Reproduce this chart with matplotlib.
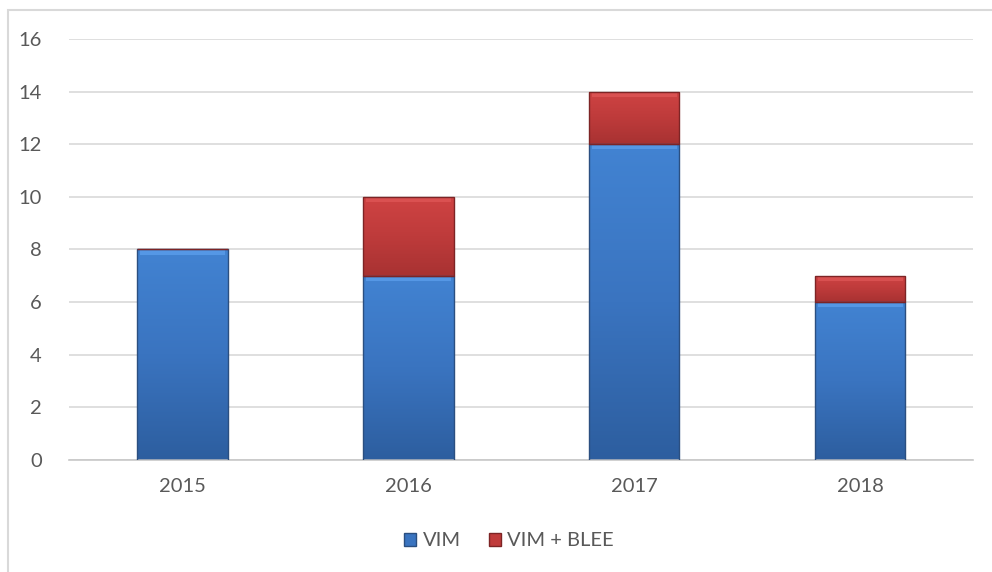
import numpy as np
import matplotlib.pyplot as plt
from matplotlib.patches import Patch, Rectangle
from matplotlib.colors import LinearSegmentedColormap

years = ["2015", "2016", "2017", "2018"]
vim = [8, 7, 12, 6]
vim_blee = [0, 3, 2, 1]

plt.rcParams["font.family"] = ["Lato", "DejaVu Sans"]

fig = plt.figure(figsize=(9.92, 5.72), dpi=100)
ax = fig.add_axes([0.070, 0.196, 0.911, 0.736])

# outer chart frame
fig.patches.append(Rectangle((8 / 992, -0.01), 1.0, 1 - 10 / 572 + 0.01,
                             transform=fig.transFigure, fill=False,
                             edgecolor="#d9d9d9", linewidth=1.5, zorder=0))

blue_cmap = LinearSegmentedColormap.from_list("b", ["#2d5e9f", "#3a74c0", "#4283d2"])
red_cmap = LinearSegmentedColormap.from_list("r", ["#a83232", "#be3b3b", "#cf4343"])

x = np.arange(len(years))
width = 0.40


def shaded_bars(bottoms, heights, cmap, top_col, edge):
    bars = ax.bar(x, heights, width, bottom=bottoms, color="none",
                  edgecolor=edge, linewidth=1.0, zorder=3)
    grad = np.linspace(0, 1, 256).reshape(-1, 1)
    for b in bars:
        h = b.get_height()
        if h <= 0:
            continue
        x0, y0, w = b.get_x(), b.get_y(), b.get_width()
        im = ax.imshow(grad, cmap=cmap, aspect="auto", origin="lower",
                       extent=(x0, x0 + w, y0, y0 + h), zorder=2)
        im.set_clip_path(b)
        # bevel highlight at top
        ax.add_patch(Rectangle((x0 + 0.012, y0 + h - 0.2), w - 0.024, 0.19,
                               color=top_col, alpha=0.7, lw=0, zorder=2.5))
    return bars


shaded_bars(np.zeros(4), vim, blue_cmap, "#5ea0ee", "#2b4f80")
shaded_bars(np.array(vim), vim_blee, red_cmap, "#e05858", "#7d2425")

ax.set_xlim(-0.5, 3.5)
ax.set_ylim(0, 16)
ax.set_yticks(range(0, 17, 2))
ax.set_xticks(x)
ax.set_xticklabels(years)
ax.yaxis.grid(True, color="#d9d9d9", linewidth=1.2, zorder=0)
ax.set_axisbelow(True)
for side in ["top", "right", "left"]:
    ax.spines[side].set_visible(False)
ax.spines["bottom"].set_color("#c8c8c8")
ax.spines["bottom"].set_linewidth(1.2)
ax.tick_params(axis="both", length=0, labelsize=14.5, labelcolor="#595959")
ax.tick_params(axis="y", pad=20)
ax.tick_params(axis="x", pad=13)

handles = [Patch(facecolor="#3a74c0", edgecolor="#2b4f80", label="VIM"),
           Patch(facecolor="#c03b3b", edgecolor="#7d2425", label="VIM + BLEE")]
fig.legend(handles=handles, loc="center", bbox_to_anchor=(509 / 992, 1 - 541 / 572),
           ncol=2, frameon=False, fontsize=14.5, labelcolor="#595959",
           handlelength=0.6, handleheight=0.6, handletextpad=0.3, columnspacing=1.4)

fig.savefig("out.png", dpi=100)
